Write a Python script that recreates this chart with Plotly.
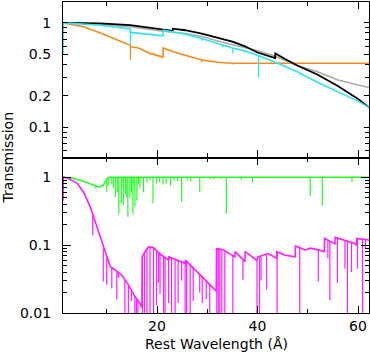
import plotly.graph_objects as go

# ---- top panel: smooth transmission curves (wavelength in Angstrom) ----
black_x = [1.29, 5, 8.7, 14.7, 18, 21.2, 23.1, 23.15, 25.6, 28.9, 32.1, 35, 37.4, 40, 43.5, 43.55, 45.5, 47.9, 51.9, 55.9, 59.8, 62.19]
black_y = [1.0, 1.0, 0.99, 0.95, 0.91, 0.86, 0.84, 0.88, 0.85, 0.79, 0.72, 0.66, 0.6, 0.52, 0.46, 0.51, 0.45, 0.39, 0.32, 0.25, 0.19, 0.155]

gray_x = [1.29, 5, 8.7, 14.7, 21.2, 25.6, 28.9, 32.1, 35, 37.4, 40, 43.5, 45.5, 47.9, 51.9, 55.9, 59.8, 62.19]
gray_y = [1.0, 0.99, 0.97, 0.92, 0.83, 0.79, 0.74, 0.67, 0.62, 0.58, 0.54, 0.48, 0.44, 0.39, 0.34, 0.285, 0.255, 0.24]

cyan_x = [1.29, 1.35, 3, 6, 8.7, 14.7, 14.75, 18, 21.2, 21.25, 25.6, 28.9, 32, 35, 37.4, 40, 44, 47.9, 51.9, 55.9, 59.8, 62.19]
cyan_y = [0.5, 1.0, 0.99, 0.97, 0.95, 0.875, 0.81, 0.78, 0.75, 0.85, 0.78, 0.71, 0.64, 0.575, 0.54, 0.49, 0.41, 0.34, 0.27, 0.22, 0.18, 0.155]
cyan_line_x = [14.72, 28.9, 33.1, 35.1, 37.4, 40.2]
cyan_line_top = [0.85, 0.71, 0.61, 0.575, 0.54, 0.49]
cyan_line_min = [0.61, 0.67, 0.58, 0.51, 0.52, 0.30]

orange_x = [1.29, 5.4, 8.7, 12.1, 14.7, 14.75, 16.3, 18.6, 21.2, 21.25, 23.2, 25.6, 28.9, 32, 35, 40, 50, 62.19]
orange_y = [1.0, 0.92, 0.80, 0.69, 0.61, 0.59, 0.575, 0.51, 0.47, 0.575, 0.53, 0.49, 0.44, 0.42, 0.41, 0.41, 0.41, 0.41]
orange_line_x = [14.72, 28.9, 35.1]
orange_line_top = [0.6, 0.44, 0.41]
orange_line_min = [0.44, 0.42, 0.40]

# ---- bottom panel: continua + absorption lines ----
green_x = [1.29, 3.0, 4.7, 5.6, 7.0, 8.4, 9.3, 10.0, 10.5, 62.19]
green_y = [1.0, 0.97, 0.9, 0.85, 0.78, 0.72, 0.76, 0.95, 1.0, 1.0]
green_line_x = [7.7, 10.0, 10.4, 11.0, 11.3, 11.7, 12.1, 12.4, 12.9, 13.0, 13.3, 13.7, 14.0, 14.2, 14.6,
                14.9, 15.2, 15.4, 15.6, 16.0, 16.3, 16.6, 17.3, 18.0, 18.6, 19.2, 19.9, 20.5, 21.2, 21.8,
                22.7, 23.4, 24.1, 24.9, 26.0, 26.7, 28.5, 30.7, 31.3, 32.7, 33.8, 36.8, 39.0, 41.0,
                50.5, 52.9, 58.8]
green_line_top = [0.76, 0.95, 0.99] + [1.0] * 44
green_line_min = [0.68, 0.61, 0.75, 0.8, 0.7, 0.51, 0.6, 0.29, 0.41, 0.7, 0.39, 0.55, 0.5, 0.26, 0.5,
                  0.6, 0.29, 0.75, 0.37, 0.46, 0.8, 0.7, 0.6, 0.85, 0.9, 0.41, 0.81, 0.85, 0.78, 0.8,
                  0.75, 0.9, 0.88, 0.43, 0.9, 0.88, 0.61, 0.93, 0.93, 0.95, 0.29, 0.92, 0.83, 0.97,
                  0.53, 0.38, 0.85]

mag_x = [1.29, 1.35, 2.0, 2.8, 3.6, 4.2, 4.8, 5.5, 6.1, 6.8, 7.4, 8.0, 8.7, 9.2, 9.7, 10.2, 10.7, 11.7,
         13.0, 14.3, 15.0, 15.7, 16.6, 17.0, 17.05, 17.6, 18.3, 19.3, 20.5, 22.3, 22.35, 25.6, 25.65,
         28.0, 30.0, 31.8, 31.85, 33.2, 35.5, 35.55, 37.5, 37.55, 39.8, 40.1, 42.1, 43.8, 43.85, 45.5,
         47.5, 47.55, 49.5, 50.5, 52.1, 53.3, 53.35, 54.8, 55.4, 55.45, 59.4, 59.7, 59.75, 62.19]
mag_y = [0.45, 1.0, 0.98, 0.92, 0.86, 0.80, 0.70, 0.58, 0.46, 0.35, 0.26, 0.19, 0.13, 0.10, 0.075, 0.06,
         0.048, 0.043, 0.036, 0.026, 0.021, 0.017, 0.014, 0.012, 0.067, 0.08, 0.094, 0.092, 0.075, 0.06,
         0.067, 0.054, 0.06, 0.04, 0.028, 0.021, 0.089, 0.085, 0.067, 0.08, 0.057, 0.08, 0.06, 0.067,
         0.075, 0.064, 0.08, 0.071, 0.067, 0.097, 0.085, 0.09, 0.085, 0.08, 0.125, 0.112, 0.105, 0.13,
         0.106, 0.1, 0.125, 0.119]
mag_line_x = [7.2, 9.3, 10.0, 11.0, 12.0, 12.3, 13.6, 14.3, 14.9, 15.6, 15.9, 16.2, 17.1, 17.5, 18.0,
              18.6, 19.3, 19.9, 20.3, 20.6, 21.3, 21.6, 22.3, 22.9, 23.6, 24.2, 24.9, 25.6, 25.9, 26.6,
              27.2, 28.5, 29.0, 29.8, 30.5, 31.9, 32.2, 32.5, 32.9, 33.5, 35.1, 37.1, 39.9, 40.4, 40.7,
              41.8, 43.9, 48.4, 52.1, 54.0, 54.4, 55.9, 57.4, 57.9, 58.7, 59.9, 60.9, 61.5]
mag_line_top = [0.28, 0.09, 0.066, 0.047, 0.041, 0.04, 0.031, 0.026, 0.022, 0.018, 0.016, 0.015, 0.068,
                0.078, 0.088, 0.094, 0.092, 0.085, 0.08, 0.077, 0.07, 0.067, 0.06, 0.065, 0.062, 0.059,
                0.056, 0.054, 0.058, 0.052, 0.048, 0.038, 0.035, 0.03, 0.026, 0.089, 0.088, 0.088, 0.086,
                0.084, 0.069, 0.06, 0.06, 0.067, 0.068, 0.074, 0.08, 0.093, 0.085, 0.12, 0.115, 0.127,
                0.115, 0.113, 0.11, 0.124, 0.122, 0.12]
mag_line_min = [0.14, 0.029, 0.026, 0.023, 0.016, 0.033, 0.001, 0.001, 0.015, 0.001, 0.001, 0.001, 0.001,
                0.001, 0.001, 0.001, 0.001, 0.013, 0.028, 0.019, 0.001, 0.001, 0.014, 0.001, 0.001, 0.014,
                0.03, 0.001, 0.001, 0.001, 0.015, 0.02, 0.014, 0.016, 0.001, 0.001, 0.001, 0.001, 0.001,
                0.001, 0.001, 0.031, 0.001, 0.001, 0.03, 0.022, 0.001, 0.001, 0.029, 0.064, 0.0155, 0.028,
                0.045, 0.001, 0.04, 0.045, 0.001, 0.09]

FONT = dict(family="DejaVu Sans, Arial, sans-serif", size=14, color="black")


def spikes(xs, tops, mins):
    sx, sy = [], []
    for x, t, m in zip(xs, tops, mins):
        sx += [x, x, None]
        sy += [t, m, None]
    return sx, sy


fig = go.Figure()


def add(x, y, color, yaxis, width=1.6):
    fig.add_trace(go.Scatter(x=x, y=y, mode="lines", line=dict(color=color, width=width),
                             xaxis="x" if yaxis == "y" else "x2", yaxis=yaxis,
                             showlegend=False, hoverinfo="skip"))


ORANGE, GRAY, CYAN = "#f7891f", "#a9a9a9", "#2ee3ee"
GREEN, MAGENTA = "#22ff22", "#ff1eff"

# top panel
add(orange_x, orange_y, ORANGE, "y2")
add(*spikes(orange_line_x, orange_line_top, orange_line_min), ORANGE, "y2", 1.3)
add(gray_x, gray_y, GRAY, "y2")
add(black_x, black_y, "black", "y2", 1.8)
add(cyan_x, cyan_y, CYAN, "y2")
add(*spikes(cyan_line_x, cyan_line_top, cyan_line_min), CYAN, "y2", 1.3)

# bottom panel
add(green_x, green_y, GREEN, "y")
add(*spikes(green_line_x, green_line_top, green_line_min), GREEN, "y", 1.2)
add(mag_x, mag_y, MAGENTA, "y")
add(*spikes(mag_line_x, mag_line_top, mag_line_min), MAGENTA, "y", 1.2)

_AXIS = dict(showline=True, linecolor="black", linewidth=1.3, mirror="ticks", ticks="inside",
             tickcolor="black", tickwidth=1, showgrid=False, zeroline=False, tickfont=FONT)

x_common = dict(range=[1.29, 62.19], tickmode="array", tickvals=[20, 40, 60], ticklen=7,
                minor=dict(tickmode="array", tickvals=[10, 30, 50], ticks="inside", ticklen=4,
                           tickcolor="black"), **_AXIS)

fig.update_layout(
    width=370, height=354,
    margin=dict(l=63, r=1, t=2, b=41),
    paper_bgcolor="white", plot_bgcolor="white",
    font=FONT,
    xaxis=dict(anchor="y", ticklabelstandoff=0, **x_common),
    xaxis2=dict(anchor="y2", matches="x", showticklabels=False, **x_common),
    yaxis=dict(domain=[0, 0.5], type="log", range=[-2, 0.29], tickmode="array",
               tickvals=[0.01, 0.1, 1], ticktext=["0.01", "0.1", "1"], ticklen=8,
               ticklabelstandoff=8,
               minor=dict(tickmode="array", ticks="inside", ticklen=4, tickcolor="black",
                          tickvals=[0.02, 0.03, 0.04, 0.05, 0.06, 0.07, 0.08, 0.09,
                                    0.2, 0.3, 0.4, 0.5, 0.6, 0.7, 0.8, 0.9]),
               **_AXIS),
    yaxis2=dict(domain=[0.5, 1], type="log", range=[-1.29, 0.2], tickmode="array",
                tickvals=[0.1, 0.2, 0.5, 1], ticktext=["0.1", "0.2", "0.5", "1"], ticklen=5,
                ticklabelstandoff=8,
                minor=dict(tickmode="array", ticks="inside", ticklen=4, tickcolor="black",
                           tickvals=[0.06, 0.07, 0.08, 0.09, 0.3, 0.4, 0.6, 0.7, 0.8, 0.9]),
                **_AXIS),
    annotations=[
        dict(text="Rest Wavelength (Å)", xref="paper", yref="paper", x=0.5, y=-0.1,
             xanchor="center", yanchor="middle", showarrow=False, font=FONT),
        dict(text="Transmission", xref="paper", yref="paper", x=-0.18, y=0.5, textangle=-90,
             xanchor="center", yanchor="middle", showarrow=False, font=FONT),
    ],
)

# page body has an 8px default margin; drop it so the 370x354 figure fills the window
fig.write_html("out.html", config={"displayModeBar": False},
               post_script="document.body.style.margin='0';")
